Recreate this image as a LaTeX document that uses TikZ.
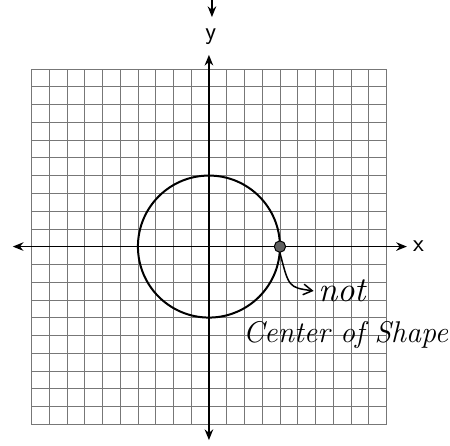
\documentclass[tikz,border=0pt]{standalone}
\usepackage{tikz}
\usetikzlibrary{arrows.meta, positioning}
\definecolor{gridGray}{HTML}{777777}
\definecolor{dotGray}{HTML}{606060}

\begin{document}
\begin{tikzpicture}[
        x=0.5cm, y=0.5cm,
        axis/.style={line width=1.4pt, -{Stealth[length=3mm, width=2.4mm]}},
        hand/.style={font=\fontsize{#1}{#1}\selectfont\itshape},
        lbl/.style={font=\sffamily\fontsize{20}{20}\selectfont}
      ]
      \useasboundingbox (-11.77,-11.18) rectangle (13.58,13.89);
      % grid paper
      \draw[gridGray, line width=0.5pt] (-10,-10) grid[step=0.5cm] (10,10);
      \draw[gridGray, line width=0.6pt] (-10,-10) rectangle (10,10);
      % axes
      \coordinate (o)  at (0,0);
      \coordinate (xl) at (-11.05,0);
      \coordinate (xr) at (11.15,0);
      \coordinate (yt) at (0,10.8);
      \coordinate (yb) at (0,-10.9);
      \draw[axis] (o) -- (xl);
      \draw[axis] (o) -- (xr);
      \draw[axis] (o) -- (yt);
      \draw[axis] (o) -- (yb);
      \node[lbl] (xlab) at (11.8,0) {x};
      \node[lbl] (ylab) at (0.1,11.85) {y};
      % arrow coming in from above
      \coordinate (top) at (0.17,13.89);
      \coordinate (topend) at (0.17,12.93);
      \draw[axis] (top) -- (topend);
      % circle
      \draw[line width=1.6pt] (o) circle (4);
      % the point
      \node[circle, fill=dotGray, draw=black, line width=0.8pt,
            inner sep=0pt, minimum size=3.2mm] (pt) at (4,0) {};
      % note
      \node[hand=28] (nt)  at (7.5,-2.5) {not};
      \node[hand=24] (cos) at (7.7,-5.0) {Center of Shape};
      \draw[line width=1.2pt, -{Straight Barb[length=2.5mm, width=3mm]}]
        (pt.south) .. controls (4.5,-2.3) .. (nt.west);
    \end{tikzpicture}
\end{document}
